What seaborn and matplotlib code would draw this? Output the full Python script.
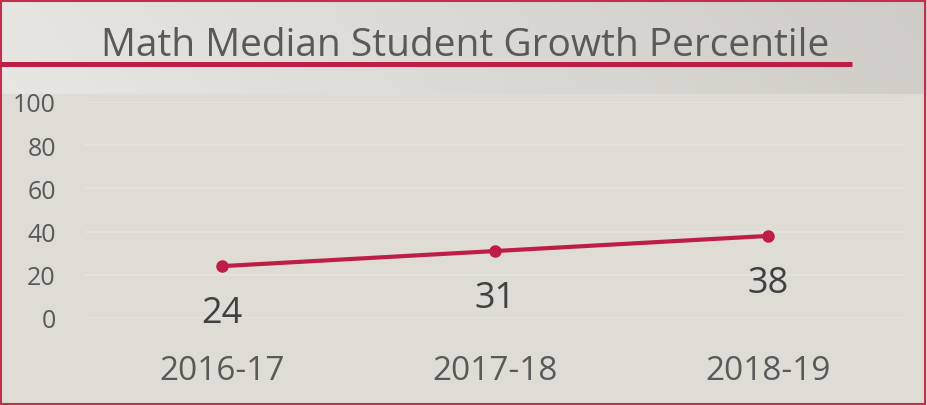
import numpy as np
import matplotlib
matplotlib.use("Agg")
import matplotlib.pyplot as plt
import seaborn as sns
import pandas as pd
from matplotlib.patches import Rectangle
from matplotlib.lines import Line2D

years = ["2016-17", "2017-18", "2018-19"]
sgp = [24, 31, 38]
yticks = [0, 20, 40, 60, 80, 100]
title = "Math Median Student Growth Percentile"

sns.set_theme(style="white")
plt.rcParams['font.family'] = ['Open Sans', 'DejaVu Sans']

W, H = 928, 406
fig = plt.figure(figsize=(W / 100, H / 100), dpi=100)

# background gradient
bg = fig.add_axes([0, 0, 1, 1], zorder=-10)
bg.set_axis_off()
xs = np.linspace(0, 1, 256)
ys = np.linspace(0, 1, 64)
X, Y = np.meshgrid(xs, ys)
t = np.clip(0.75 * X + 0.25 * (1 - Y), 0, 1)
c0 = np.array([0xee, 0xed, 0xea]) / 255
c1 = np.array([0xcf, 0xcc, 0xc7]) / 255
img = c0[None, None, :] * (1 - t[..., None]) + c1[None, None, :] * t[..., None]
bg.imshow(img, extent=[0, 1, 0, 1], aspect="auto", origin="upper")
bg.add_patch(Rectangle((0, 0), 1, (H - 95) / H, color="#dfdcd6", zorder=1))
bg.set_xlim(0, 1)
bg.set_ylim(0, 1)

# main axes
left, right = 85 / W, 905 / W
bottom, top = (H - 319) / H, (H - 103) / H
ax = fig.add_axes([left, bottom, right - left, top - bottom])
ax.set_facecolor("none")
df = pd.DataFrame({"year": years, "sgp": sgp})
sns.lineplot(data=df, x="year", y="sgp", ax=ax, color="#be1e45", linewidth=3,
             marker="o", markersize=9, markeredgewidth=0, sort=False)
ax.set_xlim(-0.5, 2.5)
ax.set_ylim(0, 100)
ax.set_yticks(yticks)
ax.set_yticklabels([str(v) for v in yticks])
ax.grid(axis="y", color="#e6e4e0", linewidth=1.2)
ax.set_axisbelow(True)
for s in ax.spines.values():
    s.set_visible(False)
ax.set_xlabel("")
ax.set_ylabel("")
ax.tick_params(axis="y", length=0, pad=21, labelsize=18, labelcolor="#595959")
ax.tick_params(axis="x", length=0, pad=26, labelsize=24, labelcolor="#595959")
for i, v in enumerate(sgp):
    ax.annotate(str(v), (i, v), xytext=(0, -34), textcoords="offset points",
                ha="center", va="center", fontsize=26, color="#404040")

# title and red rule
fig.text(465.5 / W, 1 - 46 / H, title, ha="center", va="center",
         fontsize=28, color="#595959")
fig.add_artist(Line2D([0, 852 / W], [1 - 65 / H, 1 - 65 / H], color="#be1e45",
                      linewidth=3.6, solid_capstyle="butt"))

# border
fig.add_artist(Rectangle((0.5 / W, 1 / H), (W - 3) / W, (H - 2.5) / H, fill=False,
                         edgecolor="#c0304a", linewidth=1.5, transform=fig.transFigure))

fig.savefig("out.png", dpi=100)
